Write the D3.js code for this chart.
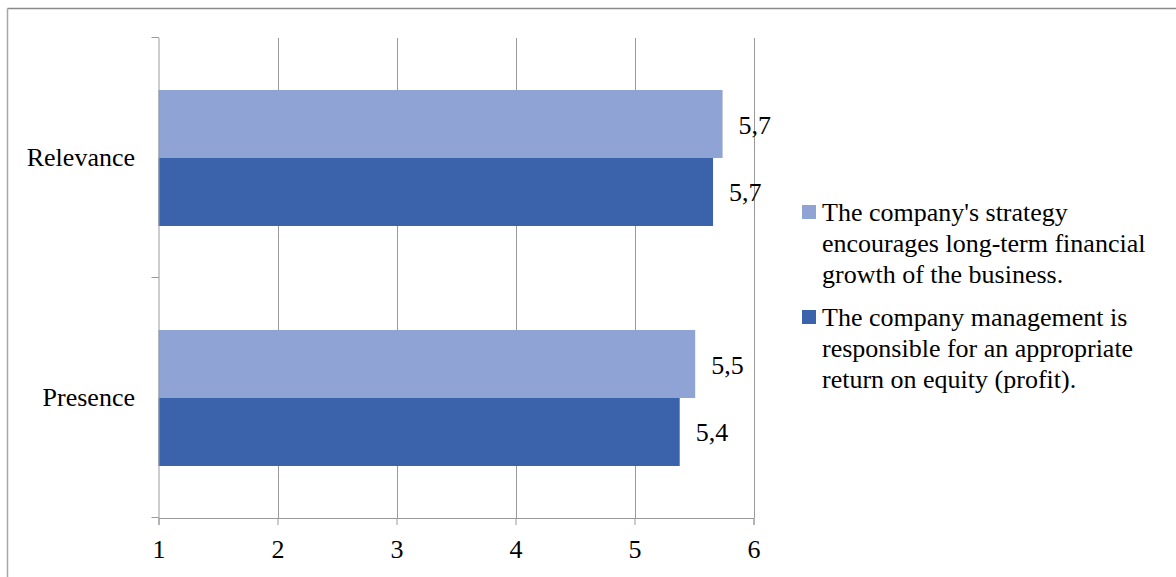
<!DOCTYPE html>
<html>
<head>
<meta charset="utf-8">
<script src="https://cdn.jsdelivr.net/npm/d3@7"></script>
<style>
  html, body { margin: 0; padding: 0; background: #fff; }
  svg { display: block; }
</style>
</head>
<body>
<svg id="chart" width="1176" height="577"></svg>
<script>
// Categories, top to bottom
const categories = ["Relevance", "Presence"];
// Series names (legend order)
const seriesNames = [
  "The company's strategy encourages long-term financial growth of the business.",
  "The company management is responsible for an appropriate return on equity (profit)."
];
const legendLines = [
  ["The company's strategy", "encourages long-term financial", "growth of the business."],
  ["The company management is", "responsible for an appropriate", "return on equity (profit)."]
];
// Mean scores per category for each series
const strategyValues = [5.74, 5.51];
const managementValues = [5.66, 5.38];
const xTicks = [1, 2, 3, 4, 5, 6];
const seriesColors = ["#8FA4D5", "#3B63AC"];

const FONT = "Liberation Serif";
const FS = 26;
const GRID = "#9a9a9a";

const svg = d3.select("#chart");

// Outer frame (top and left edges)
svg.append("line").attr("x1", 7.5).attr("x2", 1176).attr("y1", 8.5).attr("y2", 8.5)
  .attr("stroke", "#8a8a8a").attr("stroke-width", 1.5);
svg.append("line").attr("x1", 7.5).attr("x2", 7.5).attr("y1", 8.5).attr("y2", 577)
  .attr("stroke", "#a6a6a6").attr("stroke-width", 1.5);

const plot = { left: 158.5, right: 753.5, top: 38, bottom: 518 };

const x = d3.scaleLinear().domain([1, 6]).range([plot.left, plot.right]);
const y = d3.scaleBand().domain(categories).range([plot.top, plot.bottom]);
const inner = d3.scaleBand().domain(d3.range(seriesNames.length))
  .range([0, y.bandwidth()]).paddingInner(0).paddingOuter(0.765);

// Vertical gridlines
svg.append("g").selectAll("line").data(xTicks.slice(1)).join("line")
  .attr("x1", d => Math.round(x(d)) + 0.5).attr("x2", d => Math.round(x(d)) + 0.5)
  .attr("y1", plot.top).attr("y2", plot.bottom)
  .attr("stroke", GRID).attr("stroke-width", 1);

// Bars
const data = categories.map((c, i) => ({ cat: c, vals: [strategyValues[i], managementValues[i]] }));
const groups = svg.append("g").selectAll("g").data(data).join("g")
  .attr("transform", d => `translate(0,${y(d.cat)})`);

groups.selectAll("rect").data(d => d.vals.map((v, s) => ({ v, s }))).join("rect")
  .attr("x", x(1))
  .attr("y", d => inner(d.s))
  .attr("width", d => x(d.v) - x(1))
  .attr("height", inner.bandwidth())
  .attr("fill", d => seriesColors[d.s]);

// Value labels, one decimal with comma separator
const fmt = v => d3.format(".1f")(v).replace(".", ",");
groups.selectAll("text.val").data(d => d.vals.map((v, s) => ({ v, s }))).join("text")
  .attr("class", "val")
  .attr("x", d => x(d.v) + 16)
  .attr("y", d => inner(d.s) + inner.bandwidth() / 2 + 9.5)
  .attr("font-family", FONT).attr("font-size", FS).attr("fill", "#000")
  .text(d => fmt(d.v));

// X axis
const xAxis = svg.append("g").attr("transform", `translate(0,${plot.bottom})`)
  .call(d3.axisBottom(x).tickValues(xTicks).tickSize(7).tickFormat(d3.format("d")));
xAxis.select(".domain").attr("stroke", GRID);
xAxis.selectAll(".tick line").attr("stroke", GRID);
xAxis.selectAll(".tick text")
  .attr("y", 39.5).attr("dy", null)
  .attr("font-family", FONT).attr("font-size", FS).attr("fill", "#000");

// Y axis with ticks at band boundaries
const yAxis = svg.append("g").attr("transform", `translate(${plot.left},0)`);
yAxis.append("line").attr("x1", 0.5).attr("x2", 0.5).attr("y1", plot.top).attr("y2", plot.bottom)
  .attr("stroke", GRID);
const boundaries = categories.map(c => y(c)).concat([plot.bottom]);
yAxis.selectAll("line.tk").data(boundaries).join("line").attr("class", "tk")
  .attr("x1", -7).attr("x2", 0.5)
  .attr("y1", d => Math.round(d) - 0.5).attr("y2", d => Math.round(d) - 0.5)
  .attr("stroke", GRID);
yAxis.selectAll("text").data(categories).join("text")
  .attr("x", -23.5)
  .attr("y", d => y(d) + y.bandwidth() / 2 + 8)
  .attr("text-anchor", "end")
  .attr("font-family", FONT).attr("font-size", FS).attr("fill", "#000")
  .text(d => d);

// Legend
const legend = svg.append("g");
const legendBaselines = [221, 326];
legendLines.forEach((lines, s) => {
  legend.append("rect")
    .attr("x", 802).attr("y", legendBaselines[s] - 16)
    .attr("width", 14).attr("height", 14)
    .attr("fill", seriesColors[s]);
  const t = legend.append("text")
    .attr("font-family", FONT).attr("font-size", FS).attr("fill", "#000");
  lines.forEach((ln, k) => {
    t.append("tspan").attr("x", 822).attr("y", legendBaselines[s] + k * 31).text(ln);
  });
});
</script>
</body>
</html>
